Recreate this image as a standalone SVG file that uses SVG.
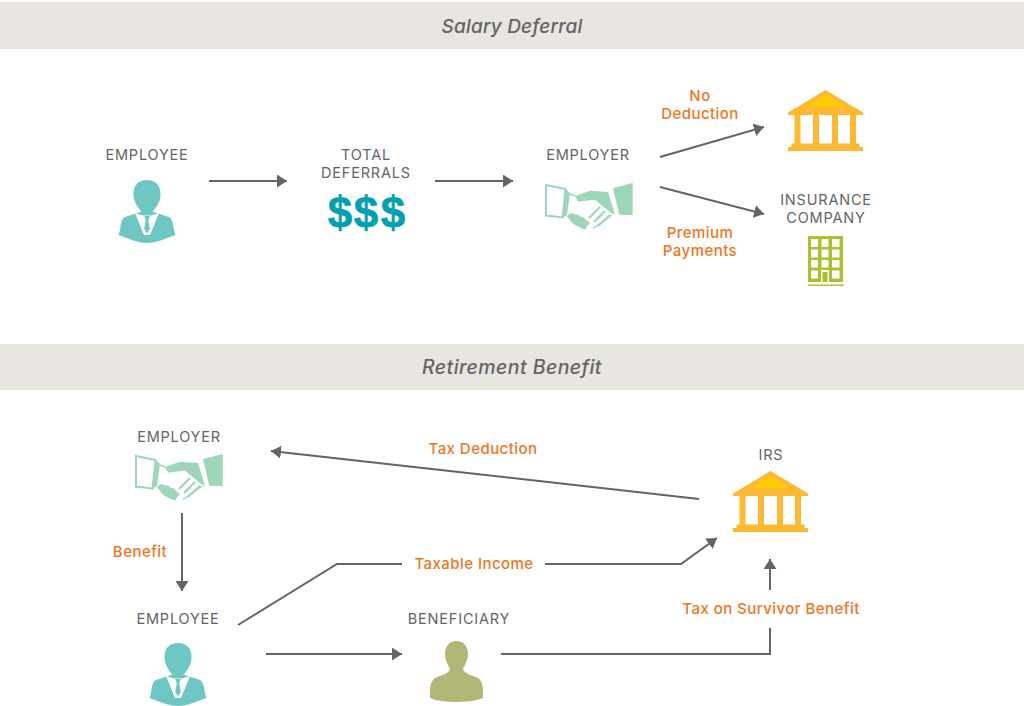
<svg xmlns="http://www.w3.org/2000/svg" width="1024" height="706" viewBox="0 0 1024 706">
<style>
.band{fill:#e9e5e0}
.h{font:italic 500 19px "Inter","Open Sans",sans-serif;fill:#636466;text-anchor:middle;letter-spacing:.2px}
.h2{font:italic 500 19.500px "Inter","Open Sans",sans-serif;fill:#636466;text-anchor:middle;letter-spacing:.42px}
.t{font:400 14.500px "Inter","Open Sans",sans-serif;fill:#636466;text-anchor:middle;letter-spacing:.8px}
.o{font:500 15px "Inter","Open Sans",sans-serif;fill:#ee7623;text-anchor:middle;letter-spacing:.45px}
.c{fill:none;stroke:#636466;stroke-width:2;marker-end:url(#a)}
.d{font:700 44px "Liberation Sans",sans-serif;fill:#00a0af;stroke:#00a0af;stroke-width:.6;text-anchor:middle}
</style>
<defs>
<marker id="a" markerUnits="userSpaceOnUse" markerWidth="12" markerHeight="14" refX="10" refY="6.500" orient="auto"><path d="M0 0L10 6.500L0 13Z" fill="#636466"/></marker>
<g id="person">
<path d="M-13.500 15C-14 5-8 0 0 0C8 0 14 5 13.500 15C13.500 22 9 27 6 31.500L-6 31.500C-9 27-13.500 22-13.500 15Z"/>
<path d="M-10 33L-22 37C-25 38-26 42-27 50L-28.500 55C-15 60-8 63 0 63C8 63 15 60 28.500 55L27 50C26 42 25 39 22 37L10 33L4 31L-4 31Z"/>
</g>
<g id="shirt">
<path d="M-12 33L-4 35.500H4L12 33L3 55H-3Z" fill="#fff"/>
<path d="M-2.800 36H2.800L1.300 40L2.800 49L0 53.500L-2.800 49L-1.300 40Z"/>
</g>
<g id="shake">
<path d="M1 3L20.500 7L17.500 35.500L1 33.500Z" fill="#fff" stroke="#9dd6b8" stroke-width="2"/>
<path d="M21 7L25 11L22 33L17.700 36Z" fill="#9dd6b8"/>
<path d="M68 6L87.700 1V33L74.300 32.700Z" fill="#9dd6b8"/>
<path d="M30 14L45 8.700L63 10L70 33L66 31L50 17.700L33 19.500Z" fill="#9dd6b8"/>
<path d="M25 12L30 14M48 46.500L67 33" fill="none" stroke="#9dd6b8" stroke-width="1.500"/>
<path d="M60 29L49 40M55 25L44 36M65 33L53 44" stroke="#9dd6b8" stroke-width="2.200" fill="none"/>
<path d="M22 34.300L24 32L27 31L30 32.500L33 32.500L36 35L39 35.500L41 38L45 41L42 44.500L40 47.700L36 46L32 44L29 42.500L26 39.500Z" fill="#9dd6b8"/>
</g>
<g id="bank" fill="#fdb933">
<path d="M0 23L37.500 0.500L75 23V25.500H0Z"/>
<path d="M37.500 5L57 17.500H18Z" fill="#ffcb05"/>
<rect x="6.500" y="25" width="6" height="31"/><rect x="25" y="25" width="6" height="31"/><rect x="44" y="25" width="6" height="31"/><rect x="62" y="25" width="6" height="31"/>
<rect x="3.500" y="54" width="68" height="4"/><rect x="0" y="57.500" width="75" height="4"/>
</g>
</defs>
<rect width="1024" height="706" fill="#fff"/>
<g id="bands">
<rect class="band" y="2" width="1024" height="47"/>
<rect class="band" y="344" width="1024" height="46"/>
<text class="h" x="512" y="33">Salary Deferral</text>
<text class="h2" x="512" y="374">Retirement Benefit</text>
</g>
<g id="connectors">
<path class="c" d="M209 181H287"/>
<path class="c" d="M435 181H513"/>
<path class="c" d="M660 157L764 127"/>
<path class="c" d="M660 187L764 214"/>
<path class="c" d="M699 499L271 451"/>
<path class="c" d="M182 513V591"/>
<path d="M238 625L337 564H402" fill="none" stroke="#636466" stroke-width="2"/>
<path class="c" d="M545 564H681L717 538"/>
<path class="c" d="M266 654H402"/>
<path d="M501 654H770V628" fill="none" stroke="#636466" stroke-width="2"/>
<path class="c" d="M770 590V559"/>
</g>
<g id="labels">
<text class="o" x="700" y="101">No</text>
<text class="o" x="700" y="119">Deduction</text>
<text class="o" x="700" y="238">Premium</text>
<text class="o" x="700" y="256">Payments</text>
<text class="o" x="483" y="454">Tax Deduction</text>
<text class="o" x="140" y="557">Benefit</text>
<text class="o" x="474" y="569">Taxable Income</text>
<text class="o" x="771" y="614">Tax on Survivor Benefit</text>
</g>
<g id="employee-1" fill="#6fc7c4">
<text class="t" x="147" y="160">EMPLOYEE</text>
<use href="#person" x="147" y="180"/><use href="#shirt" x="147" y="180"/>
</g>
<g id="total-deferrals">
<text class="t" x="366" y="160">TOTAL</text>
<text class="t" x="366" y="178">DEFERRALS</text>
<text class="d" x="340" y="228">$</text><text class="d" x="366" y="228">$</text><text class="d" x="393" y="228">$</text>
</g>
<g id="employer-1">
<text class="t" x="588" y="160">EMPLOYER</text>
<use href="#shake" x="545" y="182"/>
</g>
<g id="bank-1"><use href="#bank" x="788" y="89.500"/></g>
<g id="insurance-company">
<text class="t" x="826" y="205">INSURANCE</text>
<text class="t" x="826" y="223">COMPANY</text>
<rect x="808" y="236" width="35" height="46" fill="#acc130"/>
<rect x="808" y="284.500" width="36" height="1.500" fill="#acc130"/>
<path fill="#fff" d="M811 239h7v8h-7zM821.500 239h7v8h-7zM832 239h7.500v8h-7.500zM811 249.500h7v8h-7zM821.500 249.500h7v8h-7zM832 249.500h7.500v8h-7.500zM811 260h7v7.500h-7zM821.500 260h7v7.500h-7zM832 260h7.500v7.500h-7.500zM811 270.500h7v8h-7zM832 270.500h7.500v8h-7.500zM821 270h8v12h-8z"/>
<rect x="822.500" y="272" width="5" height="10" fill="#acc130"/>
</g>
<g id="employer-2">
<text class="t" x="179" y="442">EMPLOYER</text>
<use href="#shake" x="135" y="453"/>
</g>
<g id="employee-2" fill="#6fc7c4">
<text class="t" x="178" y="624">EMPLOYEE</text>
<use href="#person" x="178" y="643"/><use href="#shirt" x="178" y="643"/>
</g>
<g id="beneficiary">
<text class="t" x="459" y="624">BENEFICIARY</text>
<path d="M456.500 641C464 641 468 647 468 654C468 660 465 665 463 669C464 673 470 675 476 677C481 679 483 684 483 692V698C475 701 466 702 456.500 702C447 702 437 701 430 698V692C430 684 432 679 437 677C443 675 449 673 450 669C448 665 445 660 445 654C445 647 449 641 456.500 641Z" fill="#b0b777"/>
</g>
<g id="irs">
<text class="t" x="771" y="460">IRS</text>
<use href="#bank" x="733" y="470.500"/>
</g>
</svg>
